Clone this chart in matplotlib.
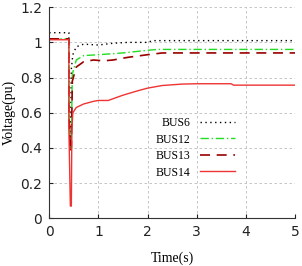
import matplotlib
matplotlib.use("Agg")
import matplotlib.pyplot as plt

# data
t6 = [0, 0.40, 0.40, 0.43, 0.45, 0.48, 0.55, 0.7, 1.0, 1.3, 1.6, 2.0, 2.1, 3.0, 4.0, 5.0]
v6 = [1.055, 1.055, 0.6, 0.4, 0.85, 0.93, 0.975, 0.99, 0.985, 0.995, 1.0, 1.0, 1.01, 1.01, 1.01, 1.01]

t12 = [0, 0.40, 0.40, 0.43, 0.45, 0.47, 0.55, 0.7, 1.0, 1.5, 2.0, 2.2, 3.0, 4.0, 5.0]
v12 = [1.02, 1.02, 0.6, 0.40, 0.45, 0.82, 0.90, 0.925, 0.93, 0.94, 0.955, 0.96, 0.96, 0.96, 0.96]

t13 = [0, 0.40, 0.40, 0.43, 0.45, 0.47, 0.55, 0.7, 0.9, 1.1, 1.3, 1.6, 2.0, 2.3, 3.0, 4.0, 5.0]
v13 = [1.02, 1.02, 0.6, 0.38, 0.40, 0.78, 0.86, 0.89, 0.90, 0.895, 0.90, 0.915, 0.93, 0.94, 0.94, 0.94, 0.94]

t14 = [0, 0.40, 0.40, 0.43, 0.45, 0.46, 0.48, 0.55, 0.7, 0.9, 1.0, 1.2, 1.5, 1.8, 2.0, 2.3, 2.7, 3.0, 3.7, 3.75, 4.0, 5.0]
v14 = [1.015, 1.015, 0.5, 0.07, 0.07, 0.5, 0.60, 0.63, 0.65, 0.665, 0.67, 0.67, 0.70, 0.725, 0.74, 0.755, 0.763, 0.765, 0.765, 0.757, 0.757, 0.757]

labels = ["BUS6", "BUS12", "BUS13", "BUS14"]
xticks = [0, 1, 2, 3, 4, 5]
yticks = [0, 0.2, 0.4, 0.6, 0.8, 1.0, 1.2]
yticklabels = ["0", "0.2", "0.4", "0.6", "0.8", "1", "1.2"]

fig = plt.figure(figsize=(3.02, 2.66), dpi=100)
ax = fig.add_axes([0.163, 0.179, 0.814, 0.794])

ax.plot(t6, v6, color="black", linestyle=(0, (1, 2.5)), lw=1.0, label=labels[0])
ax.plot(t12, v12, color="#22dd22", linestyle=(0, (6, 2, 1, 2)), lw=1.0, label=labels[1])
ax.plot(t13, v13, color="#990000", linestyle=(0, (6, 4)), lw=1.2, label=labels[2])
ax.plot(t14, v14, color="#ee3333", linestyle="-", lw=1.0, label=labels[3])

ax.set_xlim(0, 5)
ax.set_ylim(0, 1.2)
ax.set_xticks(xticks)
ax.set_yticks(yticks)
ax.set_yticklabels(yticklabels)
ax.grid(True, color="#bbbbbb", linestyle=(0, (3, 3)), lw=0.6)
ax.spines["top"].set_visible(False)
ax.spines["right"].set_visible(False)
ax.spines["left"].set_color("#333333")
ax.spines["bottom"].set_color("#333333")
ax.tick_params(direction="in", length=3, labelsize=10, colors="#222222", pad=5)

ax.set_xlabel("Time(s)", family="Liberation Serif", fontsize=10, labelpad=9)
ax.set_ylabel("Voltage(pu)", family="Liberation Serif", fontsize=10, labelpad=3)

leg = ax.legend(loc="upper left", bbox_to_anchor=(0.39, 0.53), frameon=False,
                markerfirst=False, handlelength=3.0, handletextpad=0.8,
                labelspacing=0.38, prop={"family": "Liberation Serif", "size": 8.5})

fig.savefig("out.png", dpi=100)
